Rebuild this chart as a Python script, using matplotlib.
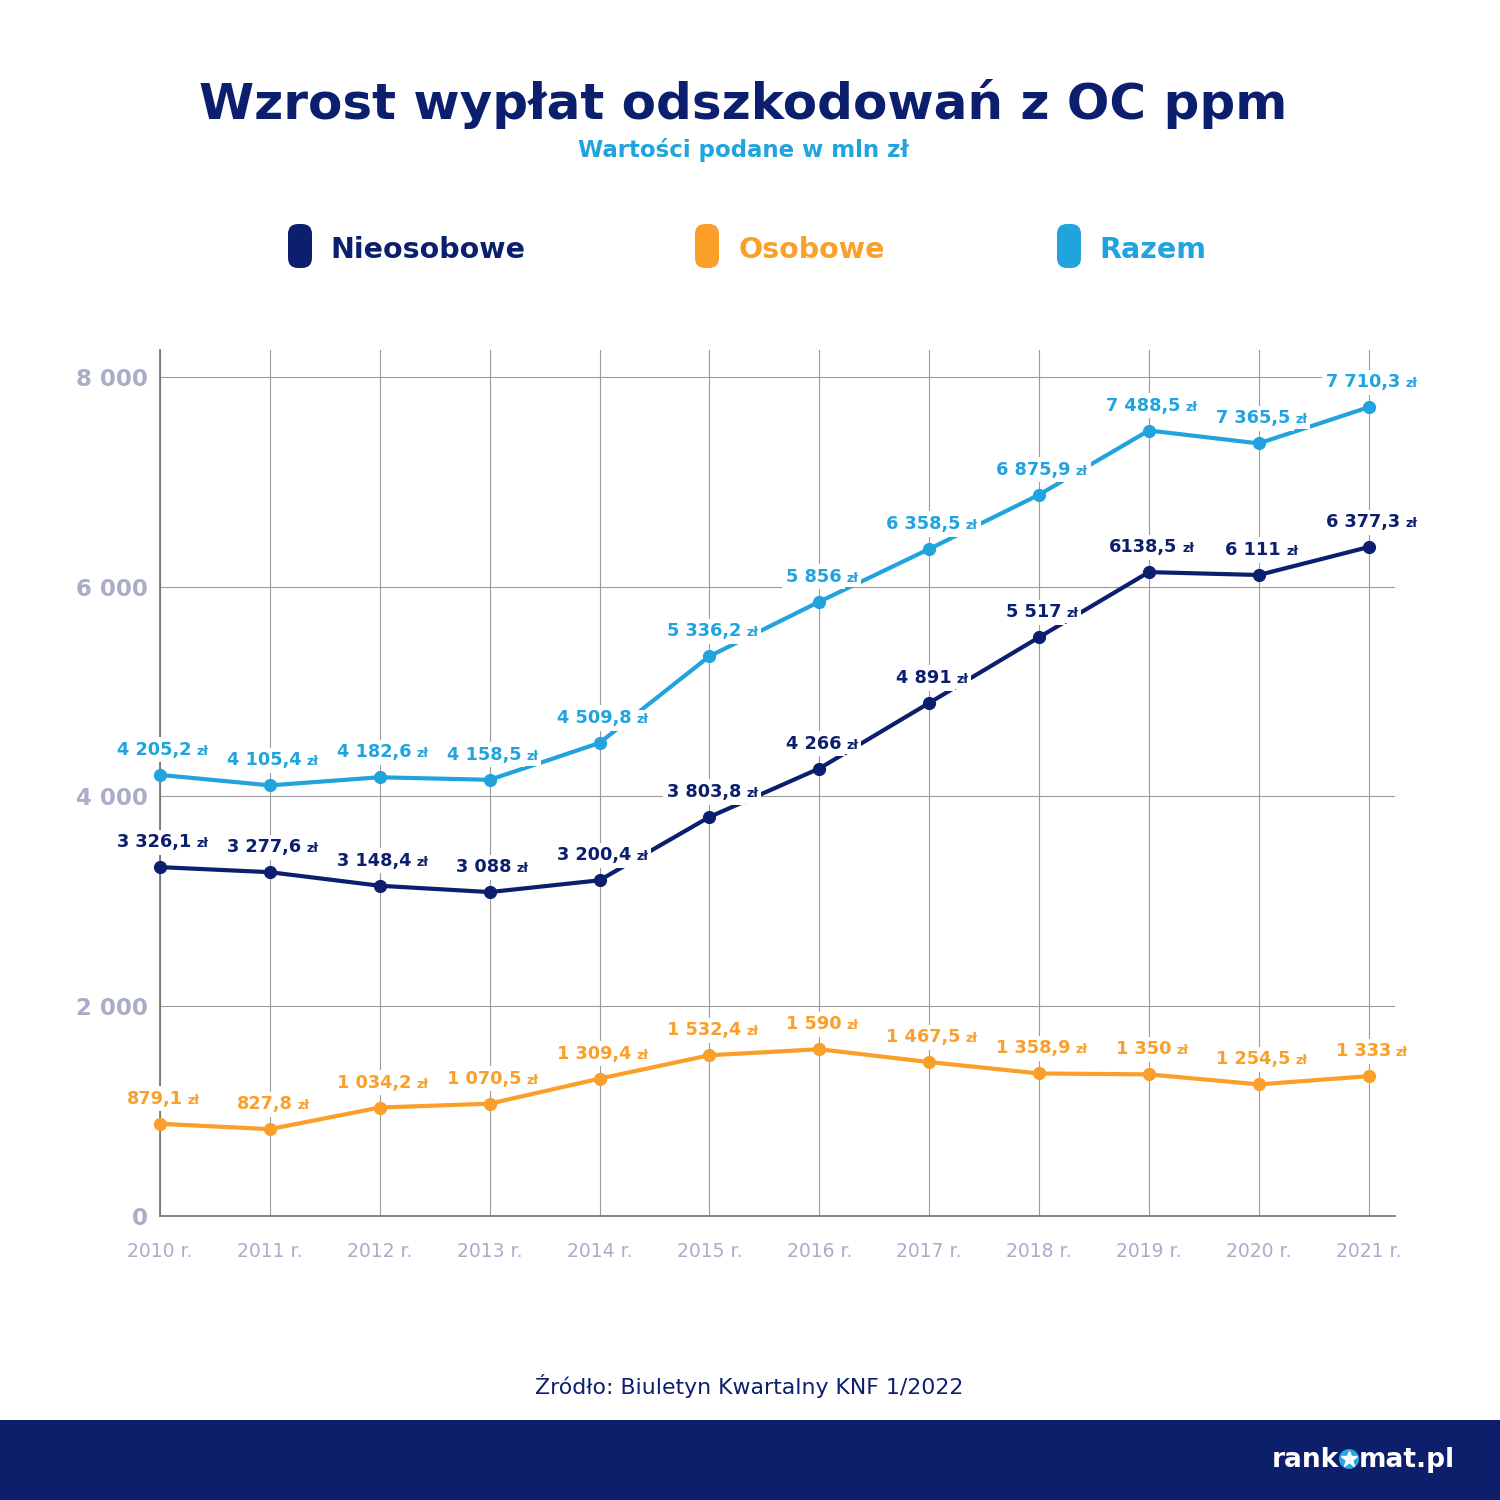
import matplotlib
matplotlib.use('Agg')
import matplotlib.pyplot as plt
from matplotlib.patches import FancyBboxPatch, Rectangle, Circle
from matplotlib.lines import Line2D
from matplotlib.text import Text

years = ['2010 r.', '2011 r.', '2012 r.', '2013 r.', '2014 r.', '2015 r.',
         '2016 r.', '2017 r.', '2018 r.', '2019 r.', '2020 r.', '2021 r.']
nieosobowe = [3326.1, 3277.6, 3148.4, 3088, 3200.4, 3803.8, 4266, 4891, 5517, 6138.5, 6111, 6377.3]
osobowe = [879.1, 827.8, 1034.2, 1070.5, 1309.4, 1532.4, 1590, 1467.5, 1358.9, 1350, 1254.5, 1333]
razem = [4205.2, 4105.4, 4182.6, 4158.5, 4509.8, 5336.2, 5856, 6358.5, 6875.9, 7488.5, 7365.5, 7710.3]
y_ticks = [0, 2000, 4000, 6000, 8000]
y_ticklabels = ['0', '2 000', '4 000', '6 000', '8 000']
legend_names = ['Nieosobowe', 'Osobowe', 'Razem']

NAVY = '#0c1f6e'
ORANGE = '#f99f2a'
BLUE = '#21a3dd'
GREY = '#a9adc8'

plt.rcParams['font.family'] = ['DejaVu Sans']


def fmt(v):
    if v == int(v):
        s = f'{int(v):,}'
    else:
        s = f'{v:,.1f}'
    return s.replace(',', ' ').replace('.', ',')


fig = plt.figure(figsize=(15, 15), dpi=100)
W = 1500.0


def fx(px):
    return px / W


def fy(py):
    return 1 - py / W


ax = fig.add_axes([fx(160), fy(1216), fx(1235), fx(866)])
xs = list(range(len(years)))
series = [(nieosobowe, NAVY), (osobowe, ORANGE), (razem, BLUE)]
for vals, col in series:
    ax.plot(xs, vals, color=col, lw=3, marker='o', ms=8.5, zorder=3,
            solid_capstyle='round', clip_on=False)

ax.set_xlim(0, 11.24)
ax.set_ylim(0, 8256)
ax.set_xticks(xs)
ax.set_xticklabels(years)
ax.set_yticks(y_ticks)
ax.set_yticklabels(y_ticklabels)
ax.tick_params(axis='x', length=0, pad=19, labelsize=13.5, labelcolor=GREY)
ax.tick_params(axis='y', length=0, pad=9, labelsize=16.5, labelcolor=GREY)
for t in ax.get_yticklabels():
    t.set_fontweight('bold')
ax.grid(True, color='#9c9c9c', lw=0.8, zorder=1)
for s in ['top', 'right']:
    ax.spines[s].set_visible(False)
for s in ['left', 'bottom']:
    ax.spines[s].set_color('#707070')
    ax.spines[s].set_linewidth(1.2)

# data labels: number bold, smaller "zł"
r = fig.canvas.get_renderer()
labels_n = [fmt(v) for v in nieosobowe]
labels_n[9] = '6138,5'
labels_o = [fmt(v) for v in osobowe]
labels_r = [fmt(v) for v in razem]


def label(xi, v, txt, col):
    kw = dict(xy=(xi, v), textcoords='offset pixels', va='baseline', ha='left',
              color=col, fontweight='bold', zorder=6, annotation_clip=False)
    t1 = ax.annotate(txt, xytext=(0, 20), fontsize=12.8,
                     bbox=dict(fc='white', ec='none', pad=2.5), **kw)
    t2 = ax.annotate('zł', xytext=(0, 20), fontsize=9,
                     bbox=dict(fc='white', ec='none', pad=2), **kw)
    w1 = Text.get_window_extent(t1, r).width
    w2 = Text.get_window_extent(t2, r).width
    gap = 5
    left = 3 - (w1 + gap + w2) / 2
    t1.xyann = (left, 20)
    t2.xyann = (left + w1 + gap, 20)


for (vals, col), labs in zip(series, [labels_n, labels_o, labels_r]):
    for xi, v, txt in zip(xs, vals, labs):
        label(xi, v, txt, col)

# title
fig.text(fx(743), fy(119), 'Wzrost wypłat odszkodowań z OC ppm', ha='center',
         va='baseline', fontsize=36, fontweight='bold', color=NAVY)
fig.text(fx(743), fy(157), 'Wartości podane w mln zł', ha='center',
         va='baseline', fontsize=16.5, fontweight='bold', color=BLUE)

# legend
for name, col, px, tx in zip(legend_names, [NAVY, ORANGE, BLUE], [288, 695, 1057], [330, 739, 1099]):
    fig.add_artist(FancyBboxPatch((fx(px), fy(268)), fx(24), fx(44),
                                  boxstyle='round,pad=0,rounding_size=%f' % fx(10),
                                  transform=fig.transFigure, fc=col, ec='none'))
    fig.text(fx(tx), fy(258), name, ha='left', va='baseline', fontsize=20.5,
             fontweight='bold', color=col)

# source
fig.text(fx(749), fy(1394), 'Źródło: Biuletyn Kwartalny KNF 1/2022', ha='center',
         va='baseline', fontsize=15.8, color=NAVY)

# footer bar with logo
fig.add_artist(Rectangle((0, 0), 1, fx(80), transform=fig.transFigure,
                         fc='#0d1e6b', ec='none', zorder=0))
fig.text(fx(1339), fy(1467), 'rank', ha='right', va='baseline', fontsize=19,
         fontweight='bold', color='white')
fig.add_artist(Circle((fx(1349), fy(1459)), fx(10), transform=fig.transFigure,
                      fc='#2aa6e0', ec='none'))
fig.add_artist(Line2D([fx(1349)], [fy(1459)], marker='*', ms=12, color='white',
                      mec='white', transform=fig.transFigure))
fig.text(fx(1359), fy(1467), 'mat.pl', ha='left', va='baseline', fontsize=19,
         fontweight='bold', color='white')

fig.savefig('out.png', dpi=100)
